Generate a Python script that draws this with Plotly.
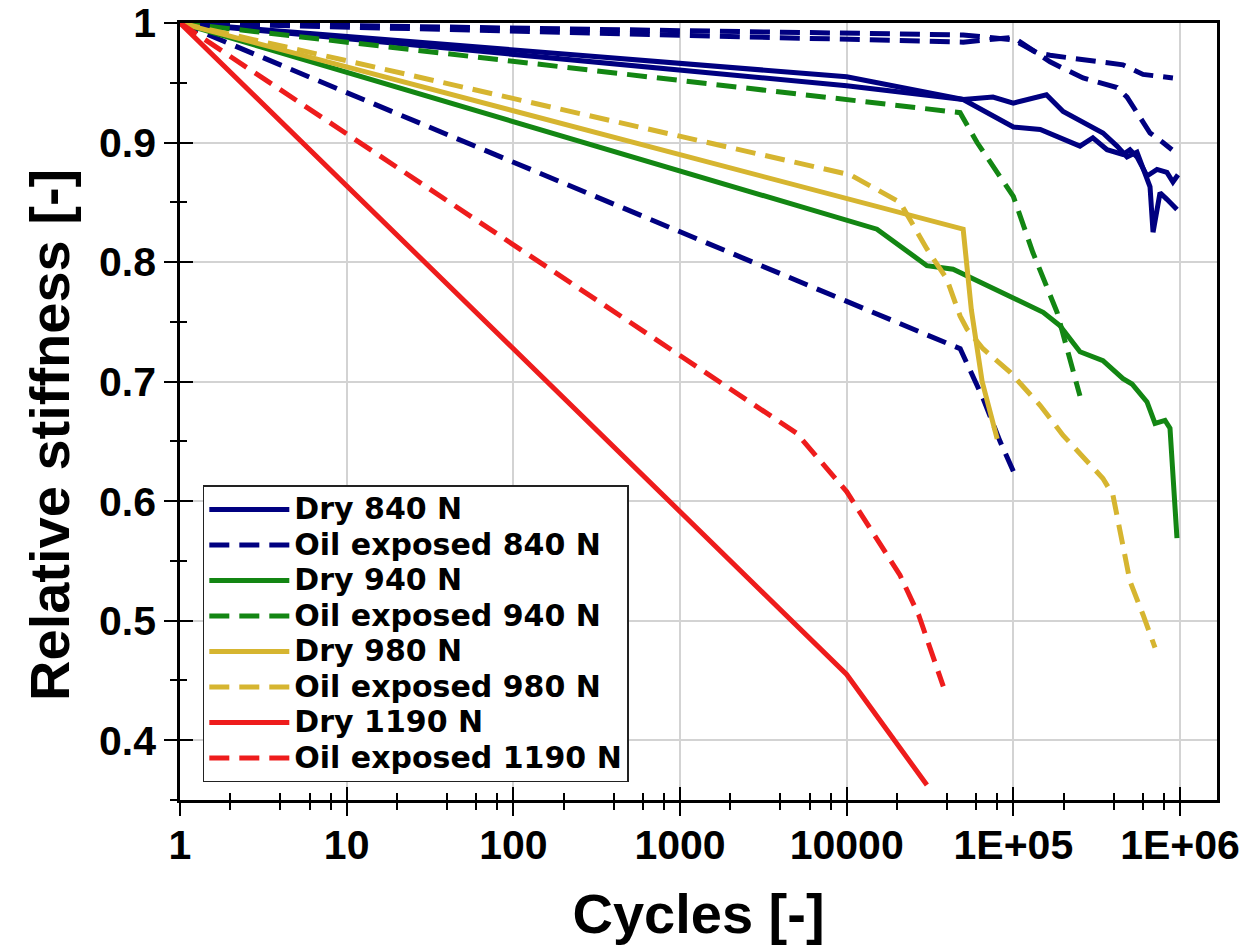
import plotly.graph_objects as go

# ---------------- data (cycles, relative stiffness) ----------------
dry840_a_n = [1, 10000, 50000, 75500, 100000, 158000, 199000, 345000, 419000, 481000, 552000, 661000, 689000, 759000, 835000, 959000]
dry840_a_s = [1.0, 0.955, 0.936, 0.938, 0.933, 0.940, 0.926, 0.908, 0.897, 0.888, 0.892, 0.863, 0.825, 0.858, 0.8525, 0.844]
dry840_b_n = [1, 10000, 50000, 100000, 145000, 251000, 300000, 365000, 455000, 501000, 552000, 634000, 728000, 835000, 907000, 973000]
dry840_b_s = [1.0, 0.9475, 0.936, 0.913, 0.911, 0.897, 0.904, 0.894, 0.890, 0.894, 0.888, 0.872, 0.8775, 0.875, 0.867, 0.873]

oil840_a_n = [1, 10000, 50000, 100000, 139000, 166000, 455000, 600000, 907000]
oil840_a_s = [1.0, 0.992, 0.990, 0.986, 0.975, 0.973, 0.965, 0.957, 0.954]
oil840_b_n = [1, 10000, 50000, 100000, 139000, 166000, 262000, 419000, 481000, 661000, 790000, 895000]
oil840_b_s = [1.0, 0.986, 0.984, 0.988, 0.975, 0.9675, 0.954, 0.946, 0.938, 0.908, 0.900, 0.894]
oil840_c_n = [1, 10000, 48000, 65800, 83200, 100000]
oil840_c_s = [1.0, 0.768, 0.7275, 0.686, 0.650, 0.625]

dry940_n = [1, 15200, 30300, 43500, 151000, 190000, 251000, 345000, 455000, 515000, 634000, 708000, 813000, 871000, 959000]
dry940_s = [1.0, 0.8275, 0.797, 0.794, 0.758, 0.747, 0.725, 0.7175, 0.7025, 0.698, 0.683, 0.665, 0.6675, 0.661, 0.569]

oil940_n = [1, 47900, 60600, 100000, 131000, 183000, 251000]
oil940_s = [1.0, 0.925, 0.900, 0.855, 0.808, 0.758, 0.688]

dry980_n = [1, 50000, 56000, 65000, 80000]
dry980_s = [1.0, 0.8275, 0.760, 0.700, 0.652]

oil980_n = [1, 10500, 20900, 30300, 39800, 47900, 52700, 65800, 95500, 145000, 199000, 345000, 396000, 457000, 501000, 600000, 708000]
oil980_s = [1.0, 0.873, 0.850, 0.811, 0.786, 0.755, 0.744, 0.7275, 0.708, 0.680, 0.655, 0.619, 0.605, 0.560, 0.533, 0.505, 0.4775]

dry1190_n = [1, 10000, 30300]
dry1190_s = [1.0, 0.455, 0.3625]

oil1190_n = [1, 5000, 10000, 20900, 27000, 33000, 38000]
oil1190_s = [1.0, 0.657, 0.608, 0.538, 0.505, 0.470, 0.445]

x_tick_vals = [1, 10, 100, 1000, 10000, 100000, 1000000]
x_tick_text = ["1", "10", "100", "1000", "10000", "1E+05", "1E+06"]
x_minor_vals = [m * d for d in [1, 10, 100, 1000, 10000, 100000] for m in (2, 4, 6, 8)]
y_tick_vals = [0.4, 0.5, 0.6, 0.7, 0.8, 0.9, 1.0]
y_tick_text = ["0.4", "0.5", "0.6", "0.7", "0.8", "0.9", "1"]

NAVY = "#000080"
GREEN = "#138613"
GOLD = "#D6B530"
RED = "#EE1C1C"
DASH = "20px,10px"
LW = 5

series = [
    ("Dry 840 N", dry840_a_n, dry840_a_s, NAVY, "solid", True),
    ("Dry 840 N", dry840_b_n, dry840_b_s, NAVY, "solid", False),
    ("Oil exposed 840 N", oil840_c_n, oil840_c_s, NAVY, DASH, True),
    ("Oil exposed 840 N", oil840_a_n, oil840_a_s, NAVY, DASH, False),
    ("Oil exposed 840 N", oil840_b_n, oil840_b_s, NAVY, DASH, False),
    ("Dry 940 N", dry940_n, dry940_s, GREEN, "solid", True),
    ("Oil exposed 940 N", oil940_n, oil940_s, GREEN, DASH, True),
    ("Dry 980 N", dry980_n, dry980_s, GOLD, "solid", True),
    ("Oil exposed 980 N", oil980_n, oil980_s, GOLD, DASH, True),
    ("Dry 1190 N", dry1190_n, dry1190_s, RED, "solid", True),
    ("Oil exposed 1190 N", oil1190_n, oil1190_s, RED, DASH, True),
]

fig = go.Figure()
for name, xs, ys, col, dash, show in series:
    fig.add_trace(go.Scatter(
        x=xs, y=ys, mode="lines",
        name='<span style="font-size:30px">' + name + "</span>",
        legendgroup=name,
        showlegend=show, line=dict(color=col, width=LW, dash=dash),
    ))

# invisible helper traces so the overlay axes (inner half of crossing ticks) are drawn
fig.add_trace(go.Scatter(x=[1], y=[1], xaxis="x2", yaxis="y", mode="markers",
                         marker=dict(opacity=0), showlegend=False, hoverinfo="skip"))
fig.add_trace(go.Scatter(x=[1], y=[1], xaxis="x", yaxis="y2", mode="markers",
                         marker=dict(opacity=0), showlegend=False, hoverinfo="skip"))

XR = [0, 6.222]
YR = [0.35, 1.0]
tickfont = dict(family="Liberation Sans, Arial, sans-serif", size=41, color="black", weight="bold")
titlefont = dict(family="Liberation Sans, Arial, sans-serif", size=56, color="black", weight="bold")

# page body has an 8px margin: figure is sized/margined so the plot area lands at x 180-1217, y 23-800
fig.update_layout(
    width=1250, height=937,
    margin=dict(l=172, r=41, t=15, b=145),
    paper_bgcolor="white", plot_bgcolor="white",
    showlegend=True,
    legend=dict(
        x=0.022, y=0.405, xanchor="left", yanchor="top",
        bgcolor="white", bordercolor="#222222", borderwidth=1.5,
        font=dict(family="DejaVu Sans, sans-serif", size=25, color="black", weight="bold"),
        itemwidth=80, tracegroupgap=0,
    ),
    xaxis=dict(
        type="log", range=XR, autorange=False, automargin=False,
        tickmode="array", tickvals=x_tick_vals, ticktext=x_tick_text,
        ticks="outside", ticklen=13, tickwidth=2, tickcolor="black",
        tickfont=tickfont, ticklabelstandoff=-6, ticklabeloverflow="allow",
        showgrid=True, gridcolor="#D3D3D3", gridwidth=1.5,
        showline=True, linecolor="black", linewidth=2.5, mirror=True,
        zeroline=False,
        minor=dict(tickmode="array", tickvals=x_minor_vals, ticks="outside",
                   ticklen=7, tickwidth=1.5, tickcolor="black", showgrid=False),
        title=dict(text="Cycles [-]", font=titlefont, standoff=30),
    ),
    xaxis2=dict(
        type="log", range=XR, autorange=False, overlaying="x", anchor="y", side="bottom",
        automargin=False,
        tickmode="array", tickvals=x_tick_vals, showticklabels=False,
        ticks="inside", ticklen=13, tickwidth=2, tickcolor="black",
        showgrid=False, showline=False, zeroline=False,
        minor=dict(tickmode="array", tickvals=x_minor_vals, ticks="inside",
                   ticklen=7, tickwidth=1.5, tickcolor="black", showgrid=False),
    ),
    yaxis=dict(
        range=YR, autorange=False, automargin=False,
        tickmode="array", tickvals=y_tick_vals, ticktext=y_tick_text,
        ticks="outside", ticklen=13, tickwidth=2, tickcolor="black",
        tickfont=tickfont, ticklabeloverflow="allow",
        showgrid=True, gridcolor="#D3D3D3", gridwidth=1.5,
        showline=True, linecolor="black", linewidth=2.5, mirror=True,
        zeroline=False,
        minor=dict(dtick=0.05, tick0=0.35, ticks="outside",
                   ticklen=7, tickwidth=1.5, tickcolor="black", showgrid=False),
    ),
    yaxis2=dict(
        range=YR, autorange=False, overlaying="y", anchor="x", side="left",
        automargin=False,
        tickmode="array", tickvals=y_tick_vals, showticklabels=False,
        ticks="inside", ticklen=13, tickwidth=2, tickcolor="black",
        showgrid=False, showline=False, zeroline=False,
        minor=dict(dtick=0.05, tick0=0.35, ticks="inside",
                   ticklen=7, tickwidth=1.5, tickcolor="black", showgrid=False),
    ),
    annotations=[dict(
        text="Relative stiffness [-]", textangle=-90, showarrow=False,
        xref="paper", yref="paper", x=-0.1254, y=0.4698,
        xanchor="center", yanchor="middle", font=titlefont,
    )],
)

fig.write_html("out.html")
